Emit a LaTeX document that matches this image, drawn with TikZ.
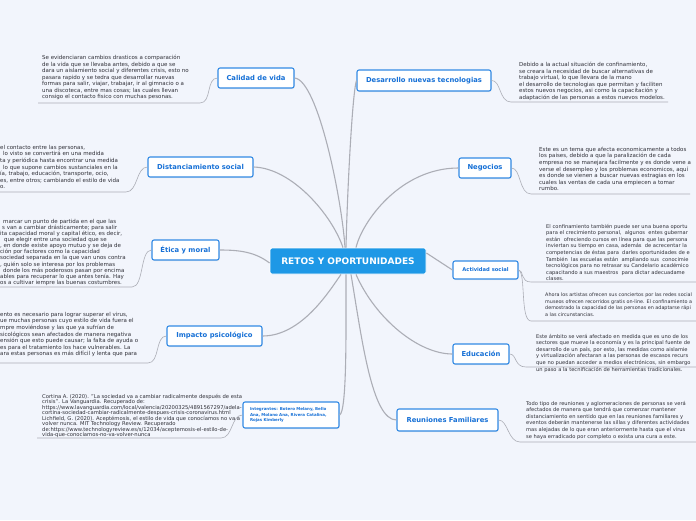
\documentclass[tikz,border=0pt]{standalone}
\usepackage{fontspec}
\setmainfont{DejaVu Sans}
\usetikzlibrary{shadows}
\definecolor{bg}{RGB}{242,245,252}
\definecolor{tblue}{RGB}{22,112,214}
\definecolor{bblue}{RGB}{50,138,228}
\definecolor{cblue}{RGB}{30,152,230}
\definecolor{lin}{RGB}{172,174,182}
\definecolor{txt}{RGB}{48,48,56}
\tikzset{
  topic/.style={draw=bblue, line width=1.1pt, fill=white, rounded corners=2pt, text=tblue,
    font=\fontsize{6.8}{7.5}\selectfont\bfseries, inner sep=0pt, minimum height=20pt,
    drop shadow={opacity=0.12, shadow xshift=0.6pt, shadow yshift=-1pt}},
  central/.style={draw=white, line width=0.8pt, fill=cblue, rounded corners=2pt, text=white,
    font=\fontsize{9}{10}\selectfont\bfseries, inner sep=0pt, minimum width=156pt, minimum height=26pt},
  desc/.style={anchor=north west, align=left, inner sep=0pt, text=txt,
    font=\fontsize{5.5}{6.55}\selectfont},
  edgedesc/.style={desc, font=\fontsize{5.15}{6.55}\selectfont},
  branch/.style={draw=lin, line width=1.1pt},
  twig/.style={draw=lin, line width=0.6pt},
}
\begin{document}
\begin{tikzpicture}[x=1pt,y=-1pt]
\path[fill=bg] (0,0) rectangle (696,520);
\useasboundingbox (0,0) rectangle (696,520);

% central and topics
\node[central] (center) at (348,261) {RETOS Y OPORTUNIDADES};
\node[topic, minimum width=76pt] (calidad) at (256,78) {Calidad de vida};
\node[topic, minimum width=134pt, minimum height=21pt] (desarrollo) at (424,80.5) {Desarrollo nuevas tecnologias};
\node[topic, minimum width=105pt] (dist) at (200.5,167) {Distanciamiento social};
\node[topic, minimum width=67pt] (etica) at (185.5,250) {Ética y moral};
\node[topic, minimum width=95pt] (impacto) at (214.5,336) {Impacto psicológico};
\node[topic, minimum width=96pt, minimum height=26pt, align=left, text width=82pt,
  font=\fontsize{4}{5.2}\selectfont\bfseries] (integ) at (291,415)
  {Integrantes: Botero Melany, Bello\\Ana, Molano Ana, Rivera Catalina,\\Rojas Kimberly};
\node[topic, minimum width=101pt, minimum height=22pt] (reun) at (447.5,420) {Reuniones Familiares};
\node[topic, minimum width=52pt] (neg) at (485,168) {Negocios};
\node[topic, minimum width=65pt, minimum height=18pt, font=\fontsize{5.2}{6}\selectfont\bfseries] (activ) at (485.5,270) {Actividad social};
\node[topic, minimum width=56pt] (educ) at (481,354) {Educación};

% branches
\draw[branch] (calidad.east) .. controls (318,80) and (342,200) .. ([xshift=-3pt]center.north);
\draw[branch] (desarrollo.west) .. controls (352,95) and (347,200) .. ([xshift=-2pt]center.north);
\draw[branch] (dist.east) .. controls (292,168) and (332,215) .. ([xshift=-5pt]center.north);
\draw[branch] (etica.east) .. controls (240,250) and (255,252) .. ([yshift=-2pt]center.west);
\draw[branch] (impacto.east) .. controls (302,336) and (330,290) .. ([xshift=-7pt]center.south);
\draw[branch] (neg.west) .. controls (400,168) and (362,222) .. ([xshift=8pt]center.north);
\draw[branch] ([yshift=8pt]center.east) -- (activ.west);
\draw[branch] ([xshift=8pt]center.south) .. controls (375,318) and (418,354) .. (educ.west);
\draw[branch] ([xshift=-2pt]center.south) .. controls (346,330) and (347,412) .. (integ.east);
\draw[branch] ([xshift=3pt]center.south) .. controls (362,340) and (372,420) .. (reun.west);

% underline coordinates
\coordinate (c1a) at (200,103); \coordinate (c1b) at (38,103);
\coordinate (c2a) at (126,192); \coordinate (c2b) at (0,192);
\coordinate (c3a) at (132,287); \coordinate (c3b) at (0,287);
\coordinate (c4a) at (148,363); \coordinate (c4b) at (0,363);
\coordinate (c5a) at (221,438); \coordinate (c5b) at (37,438);
\coordinate (d1a) at (511,102); \coordinate (d1b) at (668,102);
\coordinate (d2a) at (531,194); \coordinate (d2b) at (690,194);
\coordinate (d3a) at (531,282); \coordinate (d3b) at (696,282);
\coordinate (d4a) at (531,321); \coordinate (d4b) at (696,321);
\coordinate (d5a) at (526,367); \coordinate (d5b) at (696,367);
\coordinate (d6a) at (520,442); \coordinate (d6b) at (696,442);

% twigs
\draw[twig] (calidad.west) .. controls (206,78) and (212,103) .. (c1a) -- (c1b);
\draw[twig] (dist.west) .. controls (136,167) and (138,192) .. (c2a) -- (c2b);
\draw[twig] (etica.west) .. controls (140,250) and (144,287) .. (c3a) -- (c3b);
\draw[twig] (impacto.west) .. controls (155,336) and (160,363) .. (c4a) -- (c4b);
\draw[twig] (integ.west) .. controls (231,415) and (233,438) .. (c5a) -- (c5b);
\draw[twig] (desarrollo.east) .. controls (501,80) and (499,102) .. (d1a) -- (d1b);
\draw[twig] (neg.east) .. controls (521,168) and (519,194) .. (d2a) -- (d2b);
\draw[twig] (activ.east) .. controls (524,270) and (520,282) .. (d3a) -- (d3b);
\draw[twig] (activ.east) .. controls (526,272) and (520,321) .. (d4a) -- (d4b);
\draw[twig] (educ.east) .. controls (517,354) and (514,367) .. (d5a) -- (d5b);
\draw[twig] (reun.east) .. controls (508,420) and (508,442) .. (d6a) -- (d6b);

% descriptions
\node[desc] (t1) at (42,55) {Se evidenciaran cambios drasticos a comparación\\
de la vida que se llevaba antes, debido a que se\\
dara un aislamiento social y diferentes crisis, esto no\\
pasara rapido y se tedra que desarrollar nuevas\\
formas para salir, viajar, trabajar, ir al gimnacio o a\\
una discoteca, entre mas cosas; las cuales llevan\\
consigo el contacto fisico con muchas pesonas.};

\node[desc] (t2) at (0,145) {el contacto entre las personas,\\
\hspace*{3pt}lo visto se convertirá en una medida\\
ta y periódica hasta encontrar una medida\\
\hspace*{3pt}lo que supone cambios sustanciales en la\\
ía, trabajo, educación, transporte, ocio,\\
es, entre otros; cambiando el estilo de vida\\
o.};

\node[desc, font=\fontsize{5.5}{6.1}\selectfont] (t3) at (0,219) {\hspace*{3pt}marcar un punto de partida en el que las\\
\hspace*{2pt}s van a cambiar drásticamente; para salir\\
ita capacidad moral y capital ético, es decir,\\
\hspace*{4pt}que elegir entre una sociedad que se\\
, en donde existe apoyo mutuo y se deja de\\
ción por factores como la capacidad\\
sociedad separada en la que van unos contra\\
, quién solo se interesa por los problemas\\
\hspace*{3pt}donde los más poderosos pasan por encima\\
ables para recuperar lo que antes tenía. Hay\\
os a cultivar iempre las buenas costumbres.};

\node[desc] (t4) at (0,312) {ento es necesario para lograr superar el virus,\\
ue muchas personas cuyo estilo de vida fuera el\\
mpre moviéndose y las que ya sufrían de\\
sicológicos sean afectados de manera negativa\\
ensión que esto puede causar; la falta de ayuda o\\
es para el tratamiento los hace vulnerables. La\\
ara estas personas es más difícil y lenta que para};

\node[desc, font=\fontsize{5.25}{5.5}\selectfont] (t5) at (42,394) {Cortina A. (2020). "La sociedad va a cambiar radicalmente después de esta\\
crisis". La Vanguardia. Recuperado de:\\
https://www.lavanguardia.com/local/valencia/20200325/4891567297/adela-\\
cortina-sociedad-cambiar-radicalmente-despues-crisis-coronavirus.html\\
Lichfield, G. (2020). Aceptémosis, el estilo de vida que conocíamos no va a\\
volver nunca. MIT Technology Review. Recuperado\\
de:https://www.technologyreview.es/s/12034/aceptemosis-el-estilo-de-\\
vida-que-conocíamos-no-va-volver-nunca};

\node[desc] (t6) at (519,62) {Debido a la actual situación de confinamiento,\\
se creara la necesidad de buscar alternativas de\\
trabajo virtual, lo que llevara de la mano\\
el desarrollo de tecnologias que permitan y faciliten\\
estos nuevos negocios, asi como la capacitación y\\
adaptación de las personas a estos nuevos modelos.};

\node[desc] (t7) at (539,147) {Este es un tema que afecta economicamente a todos\\
los paises, debido a que la paralización de cada\\
empresa no se manejara facilmente y es donde vene a\\
verse el desempleo y los problemas economicos, aquí\\
es donde se vienen a buscar nuevas estragias en los\\
cuales las ventas de cada una empiecen a tomar\\
rumbo.};

\node[edgedesc] (t8) at (546,224) {El confinamiento también puede ser una buena oportu\\
para el crecimiento personal,\ \ algunos\ \ entes gubernar\\
están\ \ ofreciendo cursos en línea para que las persona\\
inviertan su tiempo en casa, además\ \ de acrecentar la\\
competencias de éstas para\ \ darles oportunidades de e\\
También\ \ las escuelas están\ \ ampliando sus\ \ conocimie\\
tecnológicos para no retrasar su Candelario académico\\
capacitando a sus maestros\ \ para dictar adecuadame\\
clases.};

\node[edgedesc, font=\fontsize{4.85}{6.55}\selectfont] (t9) at (545,293) {Ahora los artistas ofrecen sus conciertos por las redes social\\
museos ofrecen recorridos gratis on-line. El confinamiento a\\
demostrado la capacidad de las personas en adaptarse rápi\\
a las circunstancias.};

\node[edgedesc] (t10) at (536,334) {Este ámbito se verá afectado en medida que es uno de los\\
sectores que mueve la economía y es la principal fuente de\\
desarrollo de un país, por esto, las medidas como aislamie\\
y virtualización afectaran a las personas de escasos recurs\\
que no puedan acceder a medios electrónicos, sin embargo\\
un paso a la tecnificación de herramientas tradicionales.};

\node[edgedesc] (t11) at (526,401) {Todo tipo de reuniones y aglomeraciones de personas se verá\\
afectados de manera que tendrá que comenzar mantener\\
distanciamiento en sentido que en las reuniones familiares y\\
eventos deberán mantenerse las sillas y diferentes actividades\\
mas alejadas de lo que eran anteriormente hasta que el virus\\
se haya erradicado por completo o exista una cura a este.};
\end{tikzpicture}
\end{document}
